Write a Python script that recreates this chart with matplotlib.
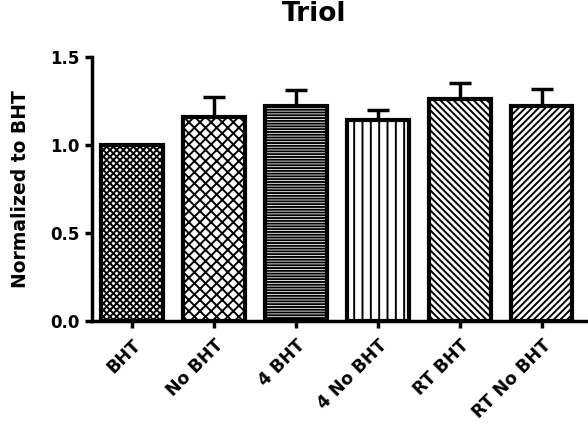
import matplotlib
matplotlib.use("Agg")
import matplotlib.pyplot as plt
import numpy as np

categories = ["BHT", "No BHT", "4 BHT", "4 No BHT", "RT BHT", "RT No BHT"]
values = [1.00, 1.16, 1.22, 1.14, 1.26, 1.22]
errors = [0.0, 0.11, 0.09, 0.06, 0.09, 0.10]
hatches = ["xxxxx", "xxx", "------", "||", "\\\\\\\\\\", "/////"]
yticks = [0.0, 0.5, 1.0, 1.5]
ytick_labels = ["0.0", "0.5", "1.0", "1.5"]

plt.rcParams['hatch.linewidth'] = 1.4
fig = plt.figure(figsize=(5.88, 4.28), dpi=100)
ax = fig.add_axes([0.156, 0.25, 0.842, 0.617])

x = np.arange(len(categories))
bars = ax.bar(x, values, width=0.75, color="white", edgecolor="black", linewidth=3, zorder=2)
for b, h in zip(bars, hatches):
    b.set_hatch(h)
for xi, v, e in zip(x, values, errors):
    if e > 0:
        ax.errorbar(xi, v, yerr=[[0], [e]], fmt="none", ecolor="black", elinewidth=2.5,
                    capsize=8, capthick=2.5, zorder=1)

ax.set_xlim(-0.49, 5.55)
ax.set_ylim(0, 1.5)
ax.set_yticks(yticks)
ax.set_yticklabels(ytick_labels, fontsize=12, fontweight="bold")
ax.set_xticks(x)
ax.set_xticklabels(categories, rotation=45, ha="right", rotation_mode="anchor",
                   fontsize=12.5, fontweight="bold")
for s in ["top", "right"]:
    ax.spines[s].set_visible(False)
for s in ["left", "bottom"]:
    ax.spines[s].set_linewidth(2.5)
ax.tick_params(axis="both", width=2.5, length=5, direction="out")
ax.tick_params(axis="x", pad=6)
ax.set_ylabel("Normalized to BHT", fontsize=13.5, fontweight="bold", labelpad=6)
ax.yaxis.set_label_coords(-0.125, 0.5)
fig.text(0.534, 0.967, "Triol", ha="center", va="center", fontsize=19, fontweight="heavy")

fig.savefig("out.png", dpi=100)
